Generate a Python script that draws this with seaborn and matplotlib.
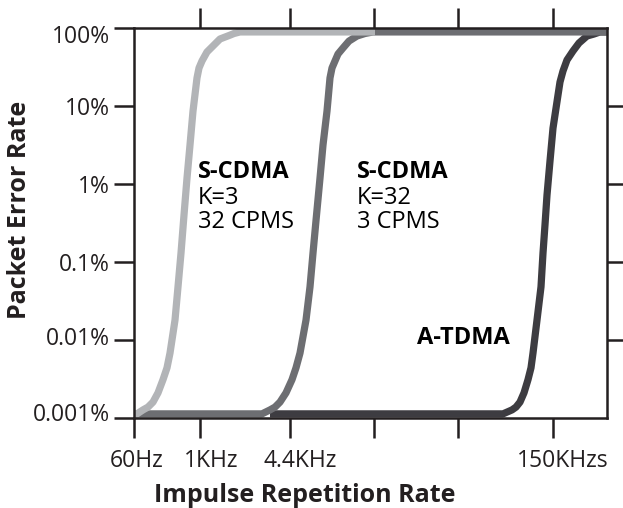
import matplotlib
matplotlib.use("Agg")
import matplotlib.pyplot as plt
import matplotlib.transforms as mtransforms
import seaborn as sns
import pandas as pd

# ---------------- data (x = position along the schematic frequency axis) ----------------
x_tick_pos = [0, 66, 156, 240, 324, 419]
x_tick_labels = ["60Hz", "1KHz", "4.4KHz", "", "", "150KHzs"]
y_tick_vals = [0.001, 0.01, 0.1, 1, 10, 100]
y_tick_labels = ["0.001%", "0.01%", "0.1%", "1%", "10%", "100%"]

# S-CDMA K=3, 32 CPMS (light gray)
scdma3_x = [0, 3, 9, 14, 19, 24, 29, 33, 36, 41, 44, 47, 50, 53, 56, 59, 63, 65, 68, 73,
            79, 86, 96, 100, 106, 241]
scdma3_y = [0.00113, 0.00113, 0.00127, 0.00138, 0.0016, 0.0021, 0.0031, 0.0044, 0.0068,
            0.018, 0.048, 0.13, 0.40, 1.19, 3.16, 8.6, 22.9, 30.7, 37.8, 49.3,
            58.8, 72.3, 81, 85, 89, 89]

# S-CDMA K=32, 3 CPMS (mid gray)
scdma32_x = [0, 128, 136, 141, 146, 152, 158, 162, 166, 172, 176, 179, 182, 186, 189, 193,
             196, 198, 201, 204, 209, 215, 223, 231, 239, 473]
scdma32_y = [0.00113, 0.00113, 0.00127, 0.00138, 0.0016, 0.0021, 0.0031, 0.0044, 0.0068,
             0.018, 0.048, 0.13, 0.34, 1.19, 3.16, 8.6, 22.9, 30.7, 37.8, 46.4,
             55.4, 68, 78.9, 85, 89, 89]

# A-TDMA (dark gray)
atdma_x = [136, 369, 378, 382, 386, 390, 394, 397, 399, 403, 407, 409, 411, 413, 416, 419,
           424, 426, 429, 433, 439, 445, 453, 460, 466, 473]
atdma_y = [0.00113, 0.00113, 0.00127, 0.00138, 0.0016, 0.0021, 0.0031, 0.0044, 0.0068,
           0.018, 0.048, 0.13, 0.30, 0.72, 1.97, 5.2, 13.8, 20.3, 28.1, 38.9,
           50.7, 64.2, 78.9, 83.7, 89, 89]

series_names = ["A-TDMA", "S-CDMA K=32", "S-CDMA K=3"]
series_colors = ["#3d3c41", "#6d6e72", "#b2b4b7"]

# ---------------- styling ----------------
sns.set_theme(style="ticks")
plt.rcParams["font.family"] = ["Open Sans", "DejaVu Sans"]
ink = "#231f20"

fig = plt.figure(figsize=(6.23, 5.08), dpi=100)
ax = fig.add_axes([134 / 623, 1 - 418 / 508, (607 - 134) / 623, (418 - 28) / 508])

frames = [
    pd.DataFrame({"x": atdma_x, "y": atdma_y}),
    pd.DataFrame({"x": scdma32_x, "y": scdma32_y}),
    pd.DataFrame({"x": scdma3_x, "y": scdma3_y}),
]
for df, name, col in zip(frames, series_names, series_colors):
    sns.lineplot(data=df, x="x", y="y", ax=ax, color=col, lw=5.2, sort=False,
                 estimator=None, solid_capstyle="butt", solid_joinstyle="round")

ax.set_yscale("log")
ax.set_xlim(0, 473)
ax.set_ylim(0.001, 100)

ax.set_xticks(x_tick_pos)
ax.set_xticklabels(x_tick_labels)
ax.minorticks_off()
ax.set_yticks(y_tick_vals)
ax.set_yticklabels(y_tick_labels)

for s in ax.spines.values():
    s.set_linewidth(1.8)
    s.set_color(ink)
    s.set_visible(True)

ax.tick_params(axis="both", which="major", direction="out", length=14.5, width=1.8,
               color=ink, labelcolor=ink, labelsize=16.5)
ax.tick_params(axis="x", pad=8)
ax.tick_params(axis="y", pad=3)

# small label nudges as in the original artwork (points)
x_nudge = [2, 8, 7, 0, 0, 7]
y_nudge = [4, 3, 0, 0, 0, -4]
for lab, dx in zip(ax.get_xticklabels(), x_nudge):
    lab.set_transform(lab.get_transform() + mtransforms.ScaledTranslation(dx / 72, 0, fig.dpi_scale_trans))
for lab, dy in zip(ax.get_yticklabels(), y_nudge):
    lab.set_transform(lab.get_transform() + mtransforms.ScaledTranslation(0, dy / 72, fig.dpi_scale_trans))

# top / right ticks (inner positions only)
top = ax.secondary_xaxis("top")
top.set_xticks(x_tick_pos[1:])
top.set_xticklabels([])
top.tick_params(direction="out", length=14.5, width=1.8, color=ink)
top.spines["top"].set_visible(False)

right = ax.secondary_yaxis("right")
right.set_yticks(y_tick_vals[1:-1])
right.set_yticklabels([])
right.minorticks_off()
right.tick_params(direction="out", length=14.5, width=1.8, color=ink, which="major")
right.tick_params(which="minor", length=0)
right.spines["right"].set_visible(False)

ax.set_xlabel("")
ax.set_ylabel("")
fig.text(305 / 623, 1 - 495 / 508, "Impulse Repetition Rate", ha="center", va="center",
         fontsize=18, fontweight="bold", color=ink)
fig.text(20 / 623, 1 - 210 / 508, "Packet Error Rate", ha="center", va="center",
         rotation=90, fontsize=18, fontweight="bold", color=ink)

# annotations
fs = 17
ax.text(64, 1.43, "S-CDMA", fontsize=fs, fontweight="bold", color="black", va="center")
ax.text(64, 0.66, "K=3", fontsize=fs, color="black", va="center")
ax.text(64, 0.325, "32 CPMS", fontsize=fs, color="black", va="center")
ax.text(223, 1.43, "S-CDMA", fontsize=fs, fontweight="bold", color="black", va="center")
ax.text(223, 0.66, "K=32", fontsize=fs, color="black", va="center")
ax.text(223, 0.325, "3 CPMS", fontsize=fs, color="black", va="center")
ax.text(283, 0.0106, "A-TDMA", fontsize=fs, fontweight="bold", color="black", va="center")

fig.savefig("out.png", dpi=100)
